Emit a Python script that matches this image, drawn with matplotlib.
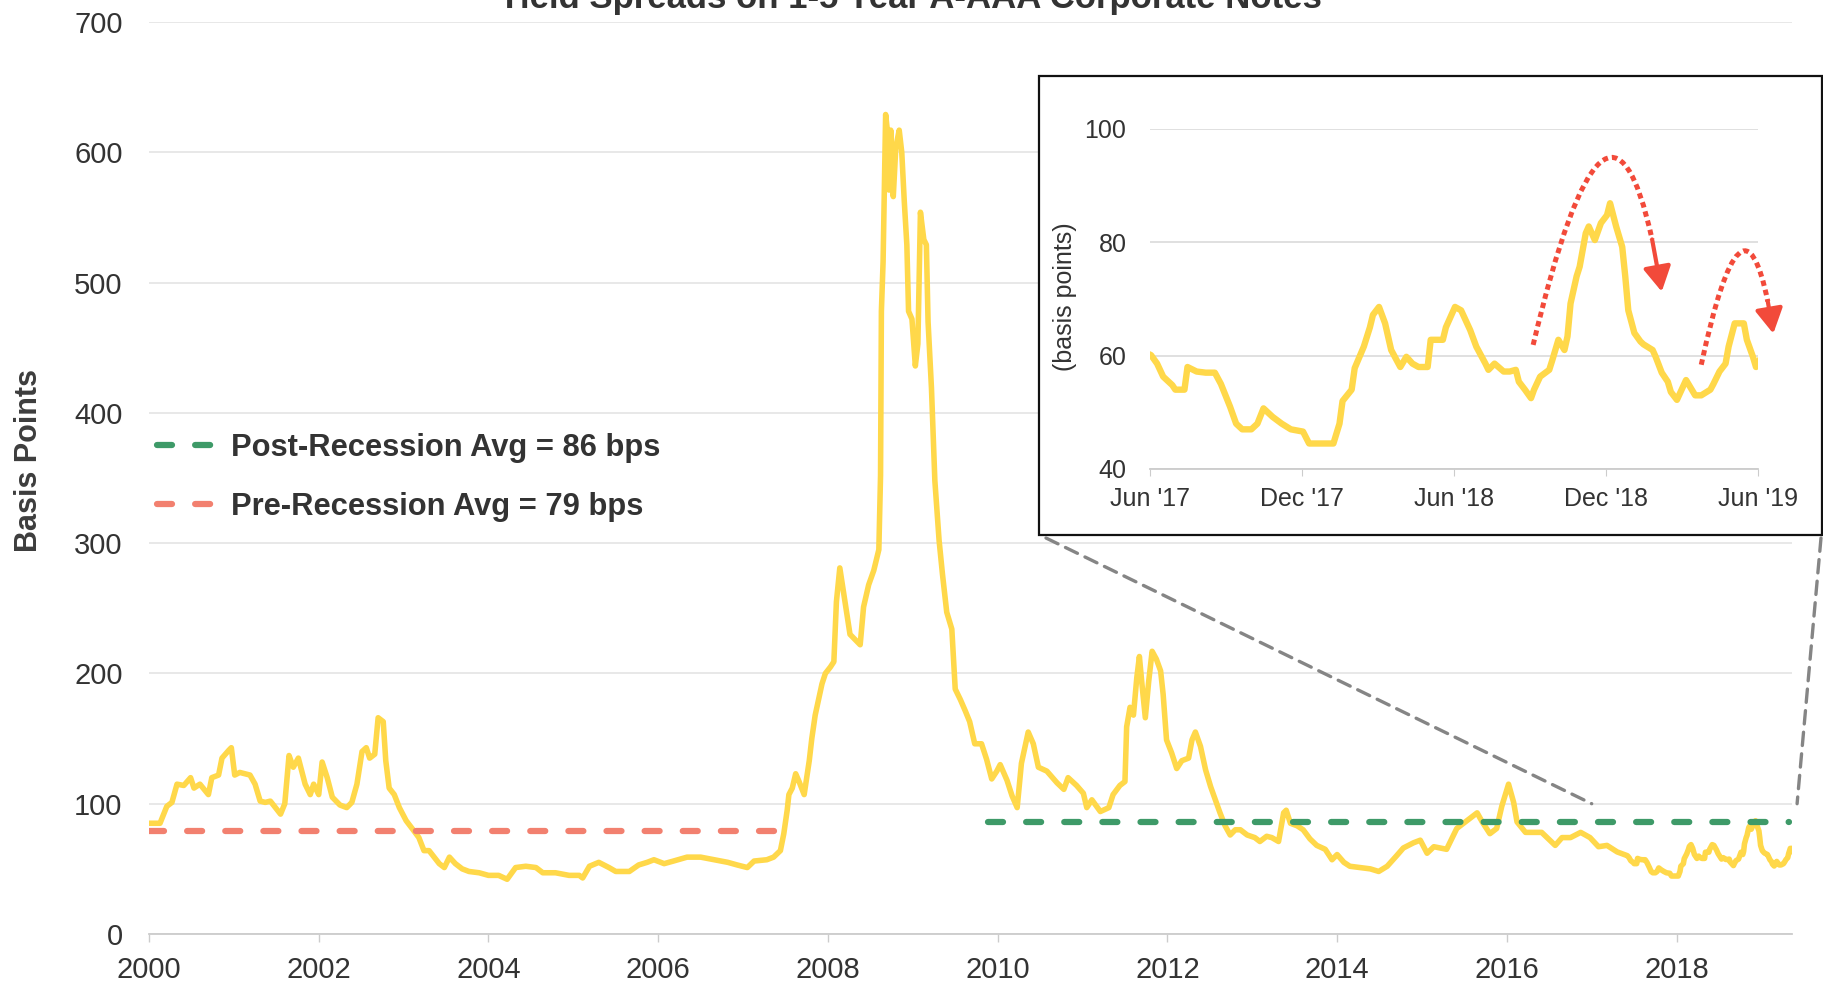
import numpy as np
import matplotlib
matplotlib.use("Agg")
import matplotlib.pyplot as plt
from matplotlib.patches import Rectangle, ConnectionPatch, PathPatch
from matplotlib.path import Path

plt.rcParams['font.family'] = ['Liberation Sans', 'DejaVu Sans']

# weekly-ish readings, fractional years
years = [2000.01, 2000.13, 2000.21, 2000.27, 2000.33, 2000.41, 2000.49, 2000.53, 2000.6, 2000.7,
         2000.74, 2000.82, 2000.86, 2000.94, 2000.97, 2001.01, 2001.07, 2001.19, 2001.25, 2001.31,
         2001.37, 2001.43, 2001.49, 2001.55, 2001.6, 2001.65, 2001.7, 2001.76, 2001.84, 2001.9,
         2001.94, 2002.0, 2002.04, 2002.1, 2002.16, 2002.25, 2002.33, 2002.39, 2002.45, 2002.51,
         2002.56, 2002.6, 2002.66, 2002.7, 2002.76, 2002.79, 2002.83, 2002.89, 2002.95, 2003.03,
         2003.1, 2003.18, 2003.24, 2003.3, 2003.36, 2003.42, 2003.48, 2003.54, 2003.61, 2003.69,
         2003.77, 2003.89, 2004.0, 2004.12, 2004.22, 2004.32, 2004.44, 2004.56, 2004.64, 2004.79,
         2004.95, 2005.07, 2005.11, 2005.19, 2005.3, 2005.42, 2005.5, 2005.66, 2005.77, 2005.87,
         2005.95, 2006.07, 2006.18, 2006.34, 2006.5, 2006.66, 2006.82, 2006.93, 2007.05, 2007.13,
         2007.28, 2007.36, 2007.44, 2007.48, 2007.52, 2007.54, 2007.58, 2007.62, 2007.66, 2007.72,
         2007.78, 2007.81, 2007.85, 2007.89, 2007.93, 2007.97, 2008.03, 2008.07, 2008.1, 2008.14,
         2008.18, 2008.26, 2008.32, 2008.38, 2008.42, 2008.48, 2008.54, 2008.6, 2008.62, 2008.63,
         2008.65, 2008.68, 2008.7, 2008.72, 2008.74, 2008.77, 2008.8, 2008.84, 2008.87, 2008.9,
         2008.93, 2008.95, 2008.99, 2009.03, 2009.06, 2009.09, 2009.13, 2009.16, 2009.18, 2009.22,
         2009.26, 2009.31, 2009.35, 2009.4, 2009.46, 2009.5, 2009.56, 2009.62, 2009.67, 2009.73,
         2009.81, 2009.87, 2009.93, 2009.99, 2010.03, 2010.11, 2010.17, 2010.23, 2010.28, 2010.36,
         2010.42, 2010.48, 2010.58, 2010.7, 2010.78, 2010.83, 2010.93, 2011.01, 2011.05, 2011.11,
         2011.21, 2011.31, 2011.36, 2011.44, 2011.5, 2011.52, 2011.56, 2011.6, 2011.64, 2011.67,
         2011.7, 2011.74, 2011.78, 2011.82, 2011.87, 2011.92, 2011.95, 2011.99, 2012.05, 2012.11,
         2012.17, 2012.25, 2012.29, 2012.33, 2012.39, 2012.45, 2012.51, 2012.56, 2012.62, 2012.68,
         2012.74, 2012.8, 2012.86, 2012.94, 2013.03, 2013.09, 2013.17, 2013.23, 2013.31, 2013.37,
         2013.4, 2013.45, 2013.53, 2013.6, 2013.68, 2013.76, 2013.86, 2013.94, 2014.0, 2014.08,
         2014.15, 2014.27, 2014.39, 2014.49, 2014.59, 2014.7, 2014.78, 2014.9, 2014.98, 2015.06,
         2015.14, 2015.29, 2015.41, 2015.53, 2015.65, 2015.71, 2015.8, 2015.88, 2015.94, 2016.02,
         2016.08, 2016.12, 2016.22, 2016.32, 2016.41, 2016.49, 2016.57, 2016.65, 2016.75, 2016.87,
         2016.98, 2017.08, 2017.18, 2017.3, 2017.42, 2017.44, 2017.46, 2017.49, 2017.5, 2017.53,
         2017.54, 2017.57, 2017.6, 2017.63, 2017.65, 2017.68, 2017.7, 2017.72, 2017.75, 2017.77,
         2017.79, 2017.82, 2017.85, 2017.88, 2017.92, 2017.94, 2017.98, 2018.02, 2018.04, 2018.05,
         2018.08, 2018.09, 2018.12, 2018.14, 2018.15, 2018.17, 2018.19, 2018.21, 2018.23, 2018.24,
         2018.26, 2018.28, 2018.3, 2018.33, 2018.34, 2018.38, 2018.39, 2018.42, 2018.44, 2018.47,
         2018.49, 2018.52, 2018.53, 2018.55, 2018.58, 2018.6, 2018.62, 2018.63, 2018.65, 2018.67,
         2018.68, 2018.7, 2018.73, 2018.74, 2018.76, 2018.78, 2018.79, 2018.8, 2018.82, 2018.83,
         2018.85, 2018.86, 2018.88, 2018.9, 2018.92, 2018.93, 2018.95, 2018.97, 2018.98, 2018.99,
         2019.01, 2019.03, 2019.04, 2019.07, 2019.08, 2019.1, 2019.12, 2019.13, 2019.15, 2019.18,
         2019.19, 2019.21, 2019.23, 2019.26, 2019.27, 2019.29, 2019.31, 2019.32, 2019.34, 2019.37,
         2019.38, 2019.4, 2019.41, 2019.42]
bps = [85, 85, 98, 101, 115, 114, 120, 112, 115, 107,
       120, 122, 135, 141, 143, 122, 124, 122, 115, 102,
       101, 102, 97, 92, 100, 137, 128, 135, 115, 107,
       115, 107, 132, 120, 105, 99, 97, 101, 115, 140,
       143, 135, 138, 166, 163, 133, 112, 107, 97, 87,
       81, 74, 64, 64, 59, 54, 51, 59, 54, 50,
       48, 47, 45, 45, 42, 51, 52, 51, 47, 47,
       45, 45, 43, 52, 55, 51, 48, 48, 53, 55,
       57, 54, 56, 59, 59, 57, 55, 53, 51, 56,
       57, 59, 64, 77, 95, 107, 112, 123, 117, 107,
       133, 150, 168, 180, 192, 200, 205, 209, 255, 281,
       264, 230, 226, 222, 251, 268, 279, 295, 352, 478,
       516, 629, 617, 571, 617, 566, 604, 617, 600, 562,
       529, 478, 472, 436, 453, 554, 533, 529, 470, 419,
       348, 302, 276, 247, 234, 188, 180, 171, 163, 146,
       146, 134, 119, 125, 130, 118, 106, 97, 131, 155,
       146, 128, 125, 116, 111, 120, 114, 108, 97, 103,
       94, 97, 107, 114, 117, 159, 174, 168, 197, 213,
       192, 166, 194, 217, 211, 202, 184, 149, 139, 127,
       133, 135, 149, 155, 144, 126, 113, 104, 93, 83,
       76, 80, 80, 76, 74, 71, 75, 74, 71, 93,
       95, 85, 83, 80, 73, 68, 65, 57, 61, 55,
       52, 51, 50, 48, 52, 60, 66, 70, 72, 62,
       67, 65, 81, 87, 93, 86, 77, 81, 98, 115,
       101, 86, 78, 78, 78, 73, 68, 74, 74, 78,
       74, 67, 68, 63, 60.1, 58.6, 56.3, 54.8, 54, 54,
       58, 57.2, 57, 57, 55, 51, 48, 47, 47, 48,
       50.7, 49.2, 48, 47, 46.6, 44.5, 44.5, 44.5, 48, 52,
       54, 57.8, 61.6, 65, 67.2, 68.6, 65.7, 61, 59, 58,
       59.8, 58.6, 58, 58, 62.8, 62.8, 65, 68.6, 68, 64.5,
       61.6, 58.6, 57.5, 58.6, 57.2, 57.2, 57.5, 55.4, 54, 52.5,
       54, 56.3, 57.5, 59.2, 62.8, 61, 63.4, 69.2, 74, 75.7,
       81.6, 82.8, 80.4, 83.4, 84.8, 86.9, 82.8, 79.2, 74, 68,
       64, 62.5, 62, 61, 59.8, 57, 55.4, 53.6, 52.2, 55.7,
       54.8, 53, 53, 54, 55, 57.2, 58.6, 61.6, 65.7, 65.7,
       62.8, 59.8, 58, 59]

pre_avg = 79
pre_span = [2000.0, 2007.46]
post_avg = 86
post_span = [2009.89, 2019.32]

main_ticks = [2000, 2002, 2004, 2006, 2008, 2010, 2012, 2014, 2016, 2018]
inset_ticks = [2017 + 5/12, 2017 + 11/12, 2018 + 5/12, 2018 + 11/12, 2019 + 5/12]
inset_labels = ["Jun '17", "Dec '17", "Jun '18", "Dec '18", "Jun '19"]

W, H = 1823, 986
fig = plt.figure(figsize=(W / 100, H / 100), dpi=100)

yellow = '#FFD84A'
green = '#3E9A68'
salmon = '#F2806F'
red = '#F24A3A'
txt = '#333333'

# main chart
ax = fig.add_axes([149 / W, 1 - 934 / H, (1792 - 149) / W, (934 - 22) / H])
ax.plot(years, bps, color=yellow, lw=4, solid_joinstyle='round', zorder=3)
ax.plot(post_span, [post_avg, post_avg], color=green, lw=4.5, dash_capstyle='round',
        linestyle=(0, (2.4, 3.7)), label='Post-Recession Avg = 86 bps', zorder=4)
ax.plot(pre_span, [pre_avg, pre_avg], color=salmon, lw=4.5, dash_capstyle='round',
        linestyle=(0, (2.4, 3.7)), label='Pre-Recession Avg = 79 bps', zorder=4)
ax.set_xlim(2000, 2019.36)
ax.set_ylim(0, 700)
ax.set_yticks(range(0, 701, 100))
ax.set_xticks(main_ticks)
ax.grid(axis='y', color='#e6e6e6', lw=1.3)
ax.set_axisbelow(True)
for s in ['top', 'right', 'left']:
    ax.spines[s].set_visible(False)
ax.spines['bottom'].set_color('#cccccc')
ax.spines['bottom'].set_linewidth(1.3)
ax.tick_params(axis='y', length=0, pad=19, labelsize=21, labelcolor=txt)
ax.tick_params(axis='x', length=6, width=1, color='#cccccc', pad=10, labelsize=21, labelcolor=txt)

fig.text(29 / W, 1 - 460 / H, 'Basis Points', rotation=90, ha='center', va='center',
         fontsize=22, fontweight='bold', color='#3d3d3d')
fig.text(910 / W, 1 - 8 / H, 'Yield Spreads on 1-5 Year A-AAA Corporate Notes',
         ha='center', va='baseline', fontsize=25, fontweight='bold', color=txt)

leg = ax.legend(loc='upper left', bbox_to_anchor=(157 / W, 1 - 433 / H),
                bbox_transform=fig.transFigure, frameon=False, borderpad=0, borderaxespad=0,
                handlelength=2.1, handletextpad=0.3, labelspacing=0.95,
                prop={'size': 22.2, 'weight': 'bold'})
for t in leg.get_texts():
    t.set_color(txt)

# inset box
box = Rectangle((1039 / W, 1 - 535 / H), (1822 - 1039) / W, (535 - 76) / H,
                transform=fig.transFigure, facecolor='white', edgecolor='#111111',
                lw=1.6, zorder=1)
fig.patches.append(box)

ins = fig.add_axes([1150 / W, 1 - 469 / H, (1758 - 1150) / W, (469 - 129) / H], zorder=2)
ins.patch.set_alpha(0)
ins.plot(years, bps, color=yellow, lw=4.6, solid_joinstyle='round', zorder=3)
ins.set_xlim(inset_ticks[0], inset_ticks[-1])
ins.set_ylim(40, 100)
ins.set_yticks([40, 60, 80, 100])
ins.set_xticks(inset_ticks)
ins.set_xticklabels(inset_labels)
ins.grid(axis='y', color='#dddddd', lw=1.3)
ins.set_axisbelow(True)
for s in ['top', 'right', 'left']:
    ins.spines[s].set_visible(False)
ins.spines['bottom'].set_color('#cccccc')
ins.spines['bottom'].set_linewidth(1.3)
ins.tick_params(axis='y', length=0, pad=17, labelsize=18, labelcolor=txt)
ins.tick_params(axis='x', length=5, color='#cccccc', pad=8, labelsize=18, labelcolor=txt)
fig.text(1065 / W, 1 - 297 / H, '(basis points)', rotation=90, ha='center', va='center',
         fontsize=18, color=txt, zorder=3)

# red dotted arrows in inset: start, peak, tip
arrows = [((2018.677, 61.9), (2018.918, 94.8), (2019.10, 71.3)),
          ((2019.23, 58.4), (2019.364, 78.4), (2019.467, 63.9))]
for p0, pk, p2 in arrows:
    p0, pk, p2 = np.array(p0), np.array(pk), np.array(p2)
    c = 2 * pk - 0.5 * (p0 + p2)
    # curve stops short of the tip, a solid head finishes it
    t = 0.9
    q = (1 - t) ** 2 * p0 + 2 * (1 - t) * t * c + t ** 2 * p2
    cq = (1 - t) * p0 + t * c
    path = Path([p0, cq, q], [Path.MOVETO, Path.CURVE3, Path.CURVE3])
    ins.add_patch(PathPatch(path, fill=False, edgecolor=red, lw=3.6,
                            linestyle=(0, (1.1, 0.8)), capstyle='butt', clip_on=False, zorder=5))
    ins.annotate('', xy=tuple(p2), xytext=tuple(q), annotation_clip=False,
                 arrowprops=dict(arrowstyle='-|>,head_length=0.75,head_width=0.42',
                                 mutation_scale=20, color=red, lw=3.0,
                                 shrinkA=0, shrinkB=0), zorder=5)

# zoom connectors
for fxy, dxy in [((1046 / W, 1 - 538 / H), (2017.0, 100)),
                 ((1821 / W, 1 - 538 / H), (2019.42, 100))]:
    con = ConnectionPatch(xyA=fxy, coordsA='figure fraction', xyB=dxy, coordsB=ax.transData,
                          color='#858585', lw=2.4, linestyle=(0, (4, 2.5)), zorder=3)
    fig.add_artist(con)

fig.savefig('out.png', dpi=100)
